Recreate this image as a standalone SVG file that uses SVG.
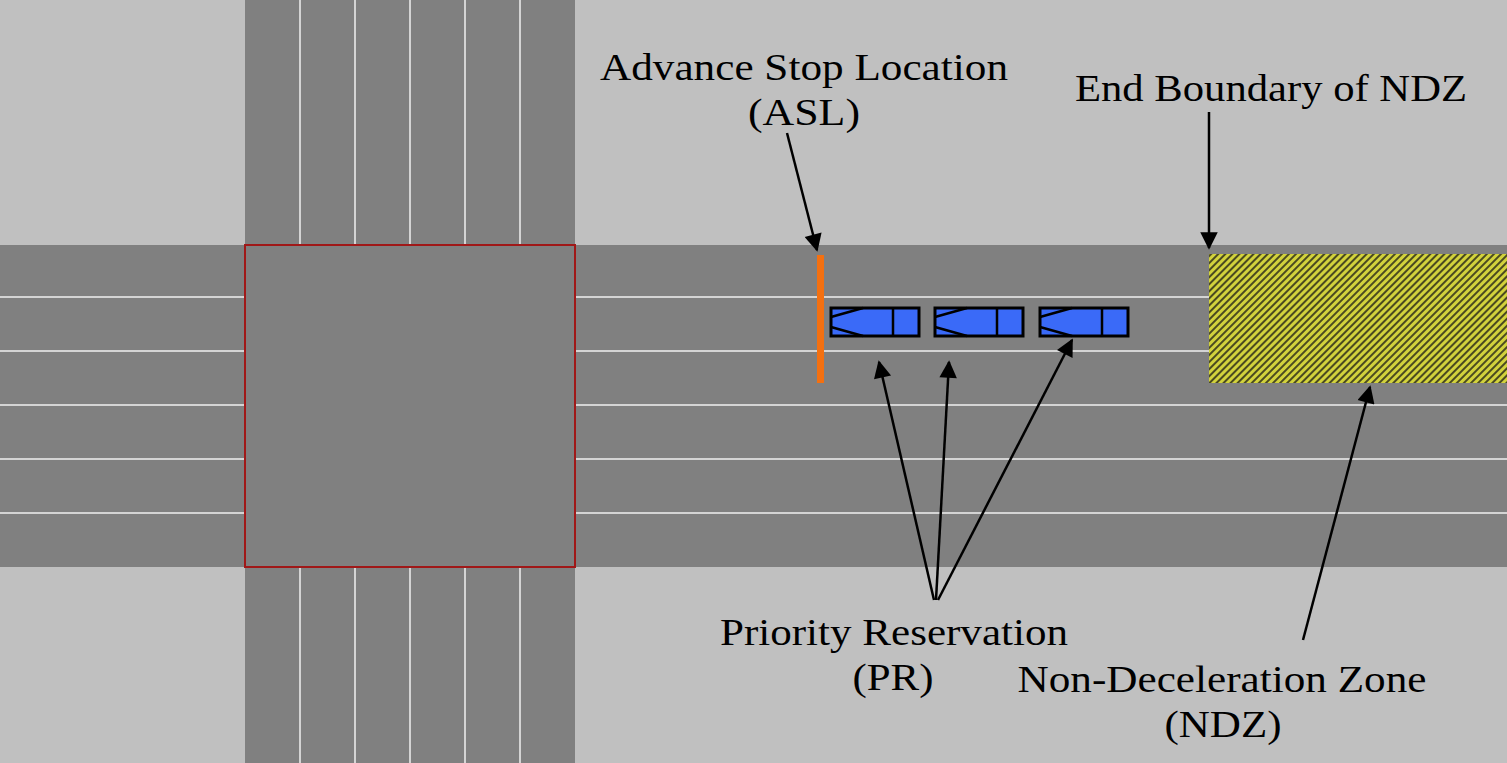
<svg xmlns="http://www.w3.org/2000/svg" width="1507" height="763" viewBox="0 0 1507 763">
<style>
.ln{stroke:#d4d4d4;stroke-width:2}
.veh{fill:#3a6af8;stroke:#000;stroke-width:3}
.vl{stroke:#000;stroke-width:2.5;fill:none}
.t{font-family:"Liberation Serif",serif;font-size:38px;fill:#000;text-anchor:middle}
.ar{stroke:#000;stroke-width:2.5;fill:none;marker-end:url(#ah)}
</style>
<defs>
<marker id="ah" viewBox="0 0 10 10" refX="9" refY="5" markerWidth="9" markerHeight="7" orient="auto" markerUnits="strokeWidth"><path d="M0,0L10,5L0,10z" fill="#000"/></marker>
<pattern id="hatch" width="5" height="5" patternUnits="userSpaceOnUse" patternTransform="rotate(-45)"><rect width="5" height="5" fill="#d2d23c"/><rect width="5" height="2" fill="#4a4a20"/></pattern>
<g id="vshape"><rect class="veh" x="0" y="0" width="88" height="28"/><path class="vl" d="M0,9L32,0M0,19L32,28M62,0V28"/></g>
</defs>
<rect width="1507" height="763" fill="#c0c0c0"/>
<g id="roads">
<rect x="0" y="245" width="1507" height="322" fill="#808080"/>
<rect x="245" y="0" width="330" height="763" fill="#808080"/>
<g class="ln">
<path d="M0,297H245M0,351H245M0,405H245M0,459H245M0,513H245"/>
<path d="M575,297H1507M575,351H1507M575,405H1507M575,459H1507M575,513H1507"/>
<path d="M300,0V245M355,0V245M410,0V245M465,0V245M520,0V245"/>
<path d="M300,567V763M355,567V763M410,567V763M465,567V763M520,567V763"/>
</g>
<rect id="intersection" x="245" y="245" width="330" height="322" fill="#808080" stroke="#a01818" stroke-width="2"/>
</g>
<g id="ndz"><rect x="1209" y="254" width="298" height="129" fill="url(#hatch)"/></g>
<g id="asl"><rect x="817" y="255" width="7" height="128" fill="#f47010"/></g>
<g id="vehicles">
<use href="#vshape" x="831" y="308"/>
<use href="#vshape" x="935" y="308"/>
<use href="#vshape" x="1040" y="308"/>
</g>
<g id="connectors">
<path class="ar" d="M787,133L817,250"/>
<path class="ar" d="M1209,112V248"/>
<path class="ar" d="M934,600L879,362"/>
<path class="ar" d="M936,600L949,362"/>
<path class="ar" d="M938,600L1072,340"/>
<path class="ar" d="M1303,640L1370,387"/>
</g>
<g id="labels">
<text class="t" x="804" y="80" textLength="408" lengthAdjust="spacingAndGlyphs">Advance Stop Location</text>
<text class="t" x="804" y="125" textLength="112" lengthAdjust="spacingAndGlyphs">(ASL)</text>
<text class="t" x="1271" y="101" textLength="392" lengthAdjust="spacingAndGlyphs">End Boundary of NDZ</text>
<text class="t" x="894" y="645" textLength="348" lengthAdjust="spacingAndGlyphs">Priority Reservation</text>
<text class="t" x="893" y="690" textLength="81" lengthAdjust="spacingAndGlyphs">(PR)</text>
<text class="t" x="1222" y="692" textLength="409" lengthAdjust="spacingAndGlyphs">Non-Deceleration Zone</text>
<text class="t" x="1223" y="737" textLength="117" lengthAdjust="spacingAndGlyphs">(NDZ)</text>
</g>
</svg>
